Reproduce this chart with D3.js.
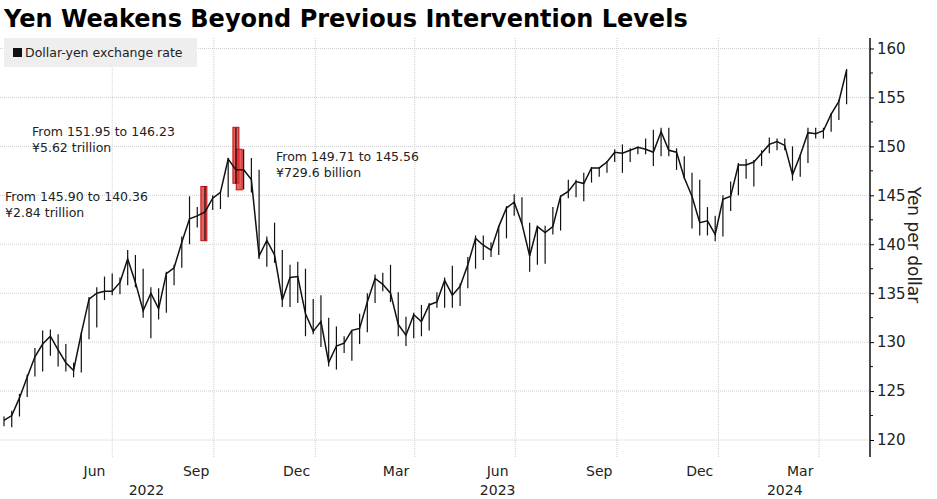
<!DOCTYPE html>
<meta charset="utf-8">
<style>
  body { margin: 0; background: #fff; font-family: "DejaVu Sans", sans-serif; }
  svg { display: block; }
</style>
<body>
<script src="https://cdn.jsdelivr.net/npm/d3@7"></script>
<script>
// weekly bars, week ending (Friday)
var weeks = [
  "2022-03-25","2022-04-01","2022-04-08","2022-04-15","2022-04-22","2022-04-29","2022-05-06","2022-05-13","2022-05-20","2022-05-27",
  "2022-06-03","2022-06-10","2022-06-17","2022-06-24","2022-07-01","2022-07-08","2022-07-15","2022-07-22","2022-07-29","2022-08-05",
  "2022-08-12","2022-08-19","2022-08-26","2022-09-02","2022-09-09","2022-09-16","2022-09-23","2022-09-30","2022-10-07","2022-10-14",
  "2022-10-21","2022-10-28","2022-11-04","2022-11-11","2022-11-18","2022-11-25","2022-12-02","2022-12-09","2022-12-16","2022-12-23",
  "2022-12-30","2023-01-06","2023-01-13","2023-01-20","2023-01-27","2023-02-03","2023-02-10","2023-02-17","2023-02-24","2023-03-03",
  "2023-03-10","2023-03-17","2023-03-24","2023-03-31","2023-04-07","2023-04-14","2023-04-21","2023-04-28","2023-05-05","2023-05-12",
  "2023-05-19","2023-05-26","2023-06-02","2023-06-09","2023-06-16","2023-06-23","2023-06-30","2023-07-07","2023-07-14","2023-07-21",
  "2023-07-28","2023-08-04","2023-08-11","2023-08-18","2023-08-25","2023-09-01","2023-09-08","2023-09-15","2023-09-22","2023-09-29",
  "2023-10-06","2023-10-13","2023-10-20","2023-10-27","2023-11-03","2023-11-10","2023-11-17","2023-11-24","2023-12-01","2023-12-08",
  "2023-12-15","2023-12-22","2023-12-29","2024-01-05","2024-01-12","2024-01-19","2024-01-26","2024-02-02","2024-02-09","2024-02-16",
  "2024-02-23","2024-03-01","2024-03-08","2024-03-15","2024-03-22","2024-03-29","2024-04-05","2024-04-12","2024-04-19","2024-04-26"
];
var closes = [
  122.0,122.5,124.3,126.4,128.5,129.8,130.6,129.2,127.9,127.1,
  130.9,134.4,135.0,135.2,135.2,136.1,138.5,136.1,133.2,135.0,
  133.4,137.0,137.6,140.2,142.6,142.9,143.3,144.7,145.3,148.7,
  147.6,147.6,146.6,138.8,140.4,138.9,134.3,136.6,136.7,132.9,
  131.1,132.1,127.9,129.6,129.9,131.2,131.4,134.1,136.5,135.9,
  135.0,131.8,130.7,132.8,132.1,133.8,134.1,136.3,134.8,135.7,
  137.9,140.6,139.9,139.4,141.8,143.7,144.3,142.1,138.8,141.8,
  141.2,141.8,144.9,145.4,146.4,146.2,147.8,147.8,148.4,149.4,
  149.3,149.6,149.9,149.7,149.4,151.5,149.6,149.4,146.8,144.9,
  142.2,142.4,141.0,144.6,144.9,148.1,148.1,148.4,149.3,150.2,
  150.5,150.1,147.1,149.1,151.4,151.3,151.6,153.3,154.6,157.8
];
var highs = [
  122.4,123.0,124.7,126.7,129.4,131.2,131.3,130.8,129.8,127.9,
  131.0,134.6,135.6,136.7,137.0,136.6,139.4,138.9,137.5,135.6,
  135.5,137.2,137.9,140.8,144.9,143.8,145.9,145.0,145.4,148.8,
  151.9,149.7,148.8,147.6,140.8,142.2,139.4,137.9,138.2,137.5,
  134.4,134.8,132.5,131.6,130.6,131.2,132.9,135.0,136.9,137.1,
  137.9,135.1,132.6,133.0,133.8,134.0,135.1,136.6,137.8,136.0,
  138.7,140.9,140.9,140.2,141.9,143.9,145.1,144.8,142.2,141.9,
  141.9,143.8,145.0,146.6,146.6,147.3,147.9,147.9,148.5,149.7,
  150.2,149.8,150.0,150.8,151.7,151.9,151.9,149.8,149.0,147.3,
  146.6,143.8,142.9,145.0,146.4,148.3,148.7,148.6,149.6,150.9,
  150.8,150.8,150.0,149.2,151.9,151.9,151.9,153.4,154.8,157.9
];
var lows = [
  121.4,121.3,122.4,124.4,126.5,127.0,128.6,127.5,127.0,126.4,
  126.9,130.3,131.5,134.3,134.8,134.9,135.8,135.6,132.5,130.4,
  132.3,133.0,135.8,137.6,140.0,141.7,140.4,143.5,143.6,144.8,
  146.2,145.6,145.3,138.5,137.7,138.1,133.6,133.6,134.0,130.6,
  130.8,129.5,127.5,127.2,128.9,128.1,129.8,131.0,134.0,135.2,
  134.1,130.6,129.6,130.4,130.6,131.2,133.5,133.5,133.5,133.7,
  135.5,137.5,138.4,138.7,138.9,140.6,142.9,142.1,137.2,137.9,
  138.0,141.0,141.4,144.7,144.8,144.4,146.3,146.9,147.3,148.4,
  147.3,148.4,149.2,149.2,148.0,149.0,149.0,147.6,146.7,141.6,
  140.9,140.9,140.3,140.8,143.4,145.0,146.7,145.9,148.0,149.3,
  149.6,149.6,146.5,146.9,148.3,150.8,150.8,151.5,152.7,154.3
];
var interventions = [
  { date: "2022-09-22", hi: 145.90, lo: 140.36, label: ["From 145.90 to 140.36", "¥2.84 trillion"] },
  { date: "2022-10-21", hi: 151.95, lo: 146.23, label: ["From 151.95 to 146.23", "¥5.62 trillion"] },
  { date: "2022-10-24", hi: 149.71, lo: 145.56, label: ["From 149.71 to 145.56", "¥729.6 billion"] }
];
var labelPos = [[5, 201], [32, 136], [276, 161]];
var yTicks = [120, 125, 130, 135, 140, 145, 150, 155, 160];
var monthTicks = [["2022-06-15","Jun"],["2022-09-15","Sep"],["2022-12-15","Dec"],["2023-03-15","Mar"],
                  ["2023-06-15","Jun"],["2023-09-15","Sep"],["2023-12-15","Dec"],["2024-03-15","Mar"]];
var gridDates = ["2022-07-01","2022-10-01","2023-01-01","2023-04-01","2023-07-01","2023-10-01","2024-01-01","2024-04-01"];
var yearTicks = [["2022-08-01","2022"],["2023-06-15","2023"],["2024-03-01","2024"]];

var W = 937, H = 499, plotR = 870, plotB = 457;
var parse = d3.timeParse("%Y-%m-%d");
var data = weeks.map(function(d, i){ return { date: parse(d), c: closes[i], h: highs[i], l: lows[i] }; });

var svg = d3.select("body").append("svg").attr("width", W).attr("height", H);

var x = d3.scaleTime().domain([parse("2022-03-25"), parse("2024-04-01")]).range([4, 819]);
var y = d3.scaleLinear().domain([120, 160]).range([440, 48.5]);

// grid
svg.append("g").selectAll("line").data(yTicks).enter().append("line")
  .attr("x1", 0).attr("x2", plotR).attr("y1", y).attr("y2", y)
  .attr("stroke", "#cfcfcf").attr("stroke-dasharray", "1,1");
svg.append("g").selectAll("line").data(gridDates).enter().append("line")
  .attr("x1", function(d){ return x(parse(d)); }).attr("x2", function(d){ return x(parse(d)); })
  .attr("y1", 38).attr("y2", plotB)
  .attr("stroke", "#cfcfcf").attr("stroke-dasharray", "1,1");

// title
svg.append("text").attr("x", 4).attr("y", 27).text("Yen Weakens Beyond Previous Intervention Levels")
  .attr("font-family", "DejaVu Sans").attr("font-weight", "bold").attr("font-size", 24).attr("fill", "#000");

// legend
svg.append("rect").attr("x", 4).attr("y", 38).attr("width", 193).attr("height", 29).attr("fill", "#eeeeee");
svg.append("rect").attr("x", 13).attr("y", 48).attr("width", 9).attr("height", 9).attr("fill", "#111");
svg.append("text").attr("x", 25).attr("y", 57).text("Dollar-yen exchange rate")
  .attr("font-size", 12.5).attr("fill", "#222");

// intervention boxes
svg.append("g").selectAll("rect").data(interventions).enter().append("rect")
  .attr("x", function(d){ return x(parse(d.date)) - 3; }).attr("width", 6)
  .attr("y", function(d){ return y(d.hi); })
  .attr("height", function(d){ return y(d.lo) - y(d.hi); })
  .attr("fill", "#e0282c").attr("fill-opacity", 0.75).attr("stroke", "#c01010");

// high-low bars
svg.append("g").selectAll("line").data(data).enter().append("line")
  .attr("x1", function(d){ return x(d.date); }).attr("x2", function(d){ return x(d.date); })
  .attr("y1", function(d){ return y(d.h); }).attr("y2", function(d){ return y(d.l); })
  .attr("stroke", "#111").attr("stroke-width", 1.2);

// closing line
svg.append("path").datum(data)
  .attr("d", d3.line().x(function(d){ return x(d.date); }).y(function(d){ return y(d.c); }))
  .attr("fill", "none").attr("stroke", "#111").attr("stroke-width", 1.5);

// annotations
interventions.forEach(function(d, i){
  var t = svg.append("text").attr("x", labelPos[i][0]).attr("y", labelPos[i][1])
    .attr("font-size", 12.5).attr("fill", "#222");
  d.label.forEach(function(s, j){
    t.append("tspan").attr("x", labelPos[i][0]).attr("dy", j ? 16 : 0).text(s);
  });
});

// right axis
var yAxis = d3.axisRight(y).tickValues(yTicks).tickSize(4).tickPadding(3);
var ga = svg.append("g").attr("transform", "translate(" + plotR + ",0)").call(yAxis);
ga.select(".domain").attr("d", "M0,38V" + plotB).attr("stroke", "#111").attr("stroke-width", 1.5);
ga.selectAll("text").attr("font-size", 15).attr("font-family", "DejaVu Sans").attr("fill", "#222");
ga.selectAll(".minor").data(d3.range(122.5, 160, 5)).enter().append("line").attr("class", "minor")
  .attr("x1", 0).attr("x2", 3).attr("y1", y).attr("y2", y).attr("stroke", "#111");

svg.append("text").attr("transform", "translate(908,245) rotate(90)").attr("text-anchor", "middle")
  .attr("font-size", 17).attr("fill", "#222").text("Yen per dollar");

// bottom labels
svg.append("g").selectAll("text").data(monthTicks).enter().append("text")
  .attr("x", function(d){ return x(parse(d[0])); }).attr("y", 476).attr("text-anchor", "middle")
  .attr("font-size", 14).attr("fill", "#222").text(function(d){ return d[1]; });
svg.append("g").selectAll("text").data(yearTicks).enter().append("text")
  .attr("x", function(d){ return x(parse(d[0])); }).attr("y", 495).attr("text-anchor", "middle")
  .attr("font-size", 14).attr("fill", "#222").text(function(d){ return d[1]; });
</script>
</body>
